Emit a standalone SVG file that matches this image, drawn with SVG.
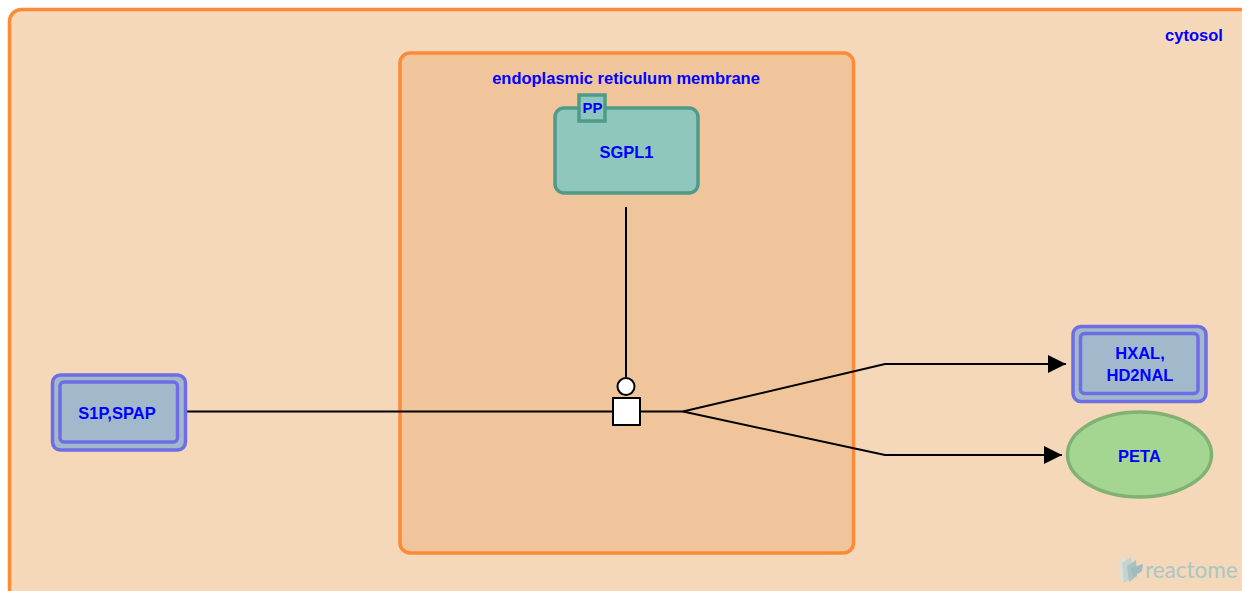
<svg xmlns="http://www.w3.org/2000/svg" width="1242" height="591" viewBox="0 0 1242 591">
<style>
.comp{stroke:#FF8A35;stroke-width:3.5}
.lbl{font-family:"Liberation Sans",Arial,sans-serif;font-weight:bold;fill:#0000FF;text-anchor:middle;font-size:16.5px}
.cx{fill:#A1B9CB;stroke:#6E6EE4;stroke-width:3.5}
.ln{fill:none;stroke:#000;stroke-width:2}
</style>
<defs>
<marker id="arr" markerUnits="userSpaceOnUse" markerWidth="20" markerHeight="20" refX="18" refY="9" orient="auto">
<path d="M0,0 L18,9 L0,18 Z" fill="#000"/>
</marker>
</defs>
<rect width="1242" height="591" fill="#FFFFFF"/>
<g id="cytosol">
<rect class="comp" x="9.5" y="9.5" width="1250" height="600" rx="12" fill="#F5D7BA"/>
<text class="lbl" x="1194" y="41">cytosol</text>
</g>
<g id="er">
<rect class="comp" x="400" y="53" width="453.5" height="500" rx="10" fill="#F0C59B"/>
<text class="lbl" x="626" y="84">endoplasmic reticulum membrane</text>
</g>
<g id="connectors">
<line class="ln" x1="626" y1="207" x2="626" y2="377"/>
<line class="ln" x1="187" y1="411.5" x2="613" y2="411.5"/>
<polyline class="ln" points="640,411.5 683,411.5 885,364 1066,364" marker-end="url(#arr)"/>
<polyline class="ln" points="683,411.5 885,455 1062,455" marker-end="url(#arr)"/>
<circle cx="626" cy="386.5" r="8.5" fill="#FFFFFF" stroke="#000" stroke-width="2"/>
<rect x="613" y="398" width="27" height="27" fill="#FFFFFF" stroke="#000" stroke-width="2"/>
</g>
<g id="SGPL1">
<rect x="555" y="108" width="143" height="85" rx="9" fill="#8FC7BC" stroke="#4F9A88" stroke-width="3.5"/>
<text class="lbl" x="626.5" y="158">SGPL1</text>
<rect x="579" y="95" width="26" height="26" fill="#8FC7BC" stroke="#4F9A88" stroke-width="3.5"/>
<text class="lbl" x="592.5" y="113" style="font-size:15px">PP</text>
</g>
<g id="S1P_SPAP">
<rect class="cx" x="52.5" y="375" width="133" height="75" rx="8"/>
<rect class="cx" x="60" y="382" width="117.5" height="60" rx="4"/>
<text class="lbl" x="117" y="419">S1P,SPAP</text>
</g>
<g id="HXAL_HD2NAL">
<rect class="cx" x="1073" y="326.5" width="133" height="75" rx="8"/>
<rect class="cx" x="1080.5" y="333.5" width="117.5" height="60" rx="4"/>
<text class="lbl" x="1140" y="359">HXAL,</text>
<text class="lbl" x="1140" y="381">HD2NAL</text>
</g>
<g id="PETA">
<ellipse cx="1139.5" cy="454.5" rx="72" ry="42.5" fill="#A5D691" stroke="#82B174" stroke-width="3.5"/>
<text class="lbl" x="1139.5" y="461.5">PETA</text>
</g>
<g id="logo" opacity="0.75">
<polygon points="1118,561 1126,555 1128,575 1120,581" fill="#D8E2DE"/>
<polygon points="1122,563 1131,557 1133,577 1124,583" fill="#B6D2D6"/>
<polygon points="1127,566 1136,560 1137,576 1129,582" fill="#8DBDC6"/>
<polygon points="1131,568 1143,564 1142,571 1133,577" fill="#7FB4BF"/>
<text x="1145" y="578" font-family="Lato,'Open Sans',sans-serif" font-size="22.5" fill="#8EC3CB">reactome</text>
</g>
</svg>
